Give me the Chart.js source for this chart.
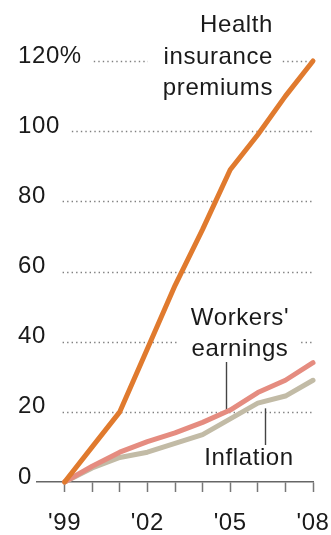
<!DOCTYPE html>
<html>
<head>
<meta charset="utf-8">
<script src="https://cdn.jsdelivr.net/npm/chart.js@4/dist/chart.umd.min.js"></script>
<style>
  html, body { margin: 0; padding: 0; background: #fff; }
  #wrap { width: 331px; height: 535px; position: relative; }
</style>
</head>
<body>
<div id="wrap"><canvas id="costChart"></canvas></div>
<script>
// Cumulative change since 1999, percent
const years = [1999, 2000, 2001, 2002, 2003, 2004, 2005, 2006, 2007, 2008];
const healthPremiums = [0, 10, 20, 38, 56, 72, 89, 99, 110, 120];
const workersEarnings = [0, 4.5, 8.5, 11.5, 14, 17, 20.5, 25.5, 29, 34];
const inflation = [0, 4, 7, 8.5, 11, 13.5, 18, 22.5, 24.5, 29];
const labeledYears = [1999, 2002, 2005, 2008];
const yTicks = [0, 20, 40, 60, 80, 100, 120];

const FONT = { family: '"Liberation Sans", Arial, sans-serif', size: 24 };
const TEXT = '#1a1a1a';

function points(values) {
    return years.map((y, i) => ({ x: y, y: values[i] }));
}

function spacing(chart) {
    chart.ctx.letterSpacing = '0.6px';
}

// dotted grid, series captions and their leader lines
const guides = {
    id: 'guides',
    beforeUpdate: spacing,
    beforeDraw: spacing,
    beforeDatasetsDraw(chart) {
        const { ctx, chartArea } = chart;
        const xs = chart.scales.x, ys = chart.scales.y;
        ctx.save();
        ctx.font = FONT.size + 'px ' + FONT.family;

        // dotted gridlines, kept clear of the tick labels
        ctx.strokeStyle = '#808080';
        ctx.lineWidth = 1.3;
        ctx.setLineDash([1.4, 3.1]);
        const left = xs.getPixelForValue(years[0]) - 2;
        ys.ticks.forEach(t => {
            if (t.value === 0) return;
            const label = t.value === 120 ? '120%' : String(t.value);
            const start = Math.max(left, 18 + ctx.measureText(label).width + 12);
            const y = Math.round(ys.getPixelForValue(t.value)) + 0.5;
            ctx.beginPath();
            ctx.moveTo(start, y);
            ctx.lineTo(chartArea.right, y);
            ctx.stroke();
        });
        ctx.setLineDash([]);

        // white panels behind captions
        ctx.fillStyle = '#fff';
        ctx.fillRect(148, 40, 133, 62);
        ctx.fillRect(178, 300, 120, 62);

        ctx.fillStyle = TEXT;
        ctx.textBaseline = 'alphabetic';
        ctx.textAlign = 'right';
        ctx.fillText('Health', 273, 32);
        ctx.fillText('insurance', 273, 64);
        ctx.fillText('premiums', 273, 95);

        ctx.textAlign = 'center';
        ctx.fillText("Workers'", 240, 325);
        ctx.fillText('earnings', 240, 356);
        ctx.fillText('Inflation', 249, 465);

        // leader lines
        ctx.strokeStyle = '#444';
        ctx.lineWidth = 1.4;
        let lx = Math.round(xs.getPixelForValue(2004.85)) + 0.5;
        ctx.beginPath();
        ctx.moveTo(lx, 362);
        ctx.lineTo(lx, ys.getPixelForValue(19.5));
        ctx.stroke();
        lx = Math.round(xs.getPixelForValue(2006.25)) + 0.5;
        ctx.beginPath();
        ctx.moveTo(lx, ys.getPixelForValue(21));
        ctx.lineTo(lx, 445);
        ctx.stroke();
        ctx.restore();
    }
};

const ctx = document.getElementById('costChart').getContext('2d');
const costChart = new Chart(ctx, {
    type: 'line',
    data: {
        datasets: [{
            label: 'Health insurance premiums',
            data: points(healthPremiums),
            borderColor: '#e07a2e',
            borderWidth: 5,
            order: 1
        }, {
            label: "Workers' earnings",
            data: points(workersEarnings),
            borderColor: '#e58c80',
            borderWidth: 5,
            order: 2
        }, {
            label: 'Inflation',
            data: points(inflation),
            borderColor: '#c2bba6',
            borderWidth: 5,
            order: 3
        }]
    },
    options: {
        responsive: true,
        maintainAspectRatio: false,
        animation: false,
        layout: { padding: { top: 61, right: 18, bottom: 0, left: 18 } },
        elements: {
            point: { radius: 0 },
            line: { tension: 0, borderCapStyle: 'round', borderJoinStyle: 'round', fill: false }
        },
        datasets: { line: { clip: false } },
        plugins: {
            legend: { display: false },
            tooltip: { enabled: false }
        },
        scales: {
            x: {
                type: 'linear',
                min: 1998,
                max: 2008,
                afterBuildTicks(scale) {
                    scale.ticks = years.map(v => ({ value: v }));
                },
                afterFit(scale) {
                    // labels sit inside the layout padding, no extra room needed
                    scale.height = 53;
                    scale.paddingLeft = 0;
                    scale.paddingRight = 0;
                },
                ticks: {
                    autoSkip: false,
                    maxRotation: 0,
                    padding: 17,
                    color: TEXT,
                    font: FONT,
                    callback: v => labeledYears.includes(v) ? "'" + String(v).slice(2) : ''
                },
                grid: {
                    drawOnChartArea: false,
                    drawTicks: true,
                    tickLength: 10,
                    tickColor: '#777',
                    tickWidth: 1.5
                },
                border: { display: true, color: '#666', width: 1.5 }
            },
            y: {
                min: 0,
                max: 120,
                afterBuildTicks(scale) {
                    scale.ticks = yTicks.map(v => ({ value: v }));
                },
                afterFit(scale) {
                    scale.width = 19;
                },
                ticks: {
                    mirror: true,
                    crossAlign: 'near',
                    padding: -19,
                    labelOffset: -5,
                    color: TEXT,
                    font: FONT,
                    callback: v => v === 120 ? '120%' : String(v)
                },
                grid: { display: false },
                border: { display: false }
            }
        }
    },
    plugins: [guides]
});
</script>
</body>
</html>
